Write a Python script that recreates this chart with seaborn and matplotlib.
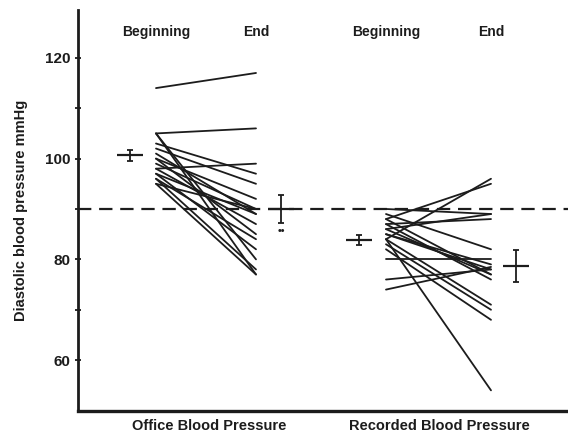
import numpy as np
import pandas as pd
import matplotlib
matplotlib.use("Agg")
import matplotlib.pyplot as plt
import seaborn as sns

# Individual patients: diastolic pressure at beginning and end of treatment
office_begin = [114, 105, 105, 105, 103, 102, 101, 100, 100, 99, 98, 98, 97, 97, 96, 96, 95, 95]
office_end   = [117, 106, 77, 80, 97, 95, 89, 92, 85, 90, 99, 87, 82, 89, 78, 84, 77, 90]
recorded_begin = [90, 89, 88, 88, 87, 87, 86, 85, 84, 84, 84, 83, 82, 80, 76, 74, 85, 86]
recorded_end   = [89, 82, 95, 77, 88, 76, 89, 78, 96, 71, 54, 70, 68, 80, 78, 78.5, 79, 77]

# Group means with standard error
group_means = [100.7, 90.0, 83.8, 78.7]
group_se = [1.1, 2.8, 1.0, 3.1]

phase_labels = ["Beginning", "End", "Beginning", "End"]
group_labels = ["Office Blood Pressure", "Recorded Blood Pressure"]
threshold = 90

# horizontal layout (axis units)
line_x = [0.78, 1.78, 3.08, 4.13]
mean_x = [0.52, 2.03, 2.81, 4.38]

rows = []
for i, (b, e) in enumerate(zip(office_begin, office_end)):
    rows.append(("o%d" % i, line_x[0], b))
    rows.append(("o%d" % i, line_x[1], e))
for i, (b, e) in enumerate(zip(recorded_begin, recorded_end)):
    rows.append(("r%d" % i, line_x[2], b))
    rows.append(("r%d" % i, line_x[3], e))
df = pd.DataFrame(rows, columns=["subject", "x", "bp"])

sns.set_style("ticks")
plt.rcParams["font.family"] = ["Liberation Sans", "DejaVu Sans"]
ink = "#1c1c1c"

fig = plt.figure(figsize=(5.68, 4.36), dpi=100)
ax = fig.add_axes([78 / 568, 25.5 / 436, 490 / 568, 400.5 / 436])

sns.lineplot(data=df, x="x", y="bp", units="subject", estimator=None,
             color=ink, lw=1.3, ax=ax, legend=False)

ax.axhline(threshold, color=ink, lw=1.6, ls=(0, (6, 3.5)), zorder=1)

for xm, m, se in zip(mean_x, group_means, group_se):
    ax.hlines(m, xm - 0.13, xm + 0.13, color=ink, lw=1.6)
    ax.errorbar(xm, m, yerr=se, fmt="none", ecolor=ink, elinewidth=1.3,
                capsize=2.5, capthick=1.3)

ax.text(mean_x[1], group_means[1] - 4.3, "••", ha="center", va="center",
        fontsize=7.5, color=ink, fontweight="bold")

for xl, lab in zip(line_x, phase_labels):
    ax.text(xl, 125.2, lab, ha="center", va="center", fontsize=10,
            fontweight="bold", color=ink)

for xc, lab in zip([1.31, 3.61], group_labels):
    ax.text(xc, 46.9, lab, ha="center", va="center", fontsize=10.5,
            fontweight="bold", color=ink, clip_on=False)

ax.set_xlim(0, 4.90)
ax.set_ylim(50, 129.5)
ax.set_xticks([])
ax.set_yticks([60, 80, 100, 120])
ax.set_yticks([70, 90, 110], minor=True)
ax.tick_params(axis="y", which="both", direction="inout", length=5, width=1.3,
               labelsize=11, colors=ink, pad=3)
for t in ax.get_yticklabels():
    t.set_fontweight("bold")
ax.set_xlabel("")
ax.set_ylabel("Diastolic blood pressure mmHg", fontsize=10.5, fontweight="bold",
              color=ink, labelpad=12)
sns.despine(ax=ax)
ax.spines["left"].set_linewidth(2.0)
ax.spines["bottom"].set_linewidth(2.4)
ax.spines["left"].set_color(ink)
ax.spines["bottom"].set_color(ink)

fig.savefig("out.png", dpi=100)
